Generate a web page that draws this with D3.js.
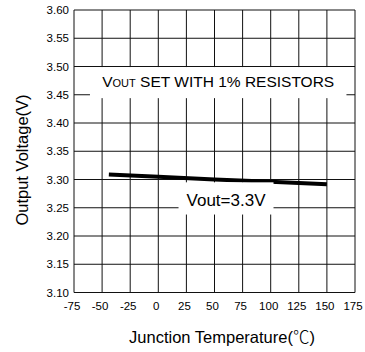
<!DOCTYPE html>
<html>
<head>
<meta charset="utf-8">
<script src="https://cdn.jsdelivr.net/npm/d3@7/dist/d3.min.js"></script>
<style>
  body { margin: 0; background: #fff; }
  text { font-family: "Liberation Sans", Arial, sans-serif; fill: #000; }
</style>
</head>
<body>
<div id="chart"></div>
<script>
// values
const xTicks = [-75, -50, -25, 0, 25, 50, 75, 100, 125, 150, 175];
const yTicks = [3.1, 3.15, 3.2, 3.25, 3.3, 3.35, 3.4, 3.45, 3.5, 3.55, 3.6];
const tempC = [-44, 0, 50, 100, 150];
const vout = [3.309, 3.305, 3.3, 3.296, 3.2915];

const width = 365,
  height = 352,
  margin = { top: 10, right: 10, bottom: 59.5, left: 74 };

const svg = d3
  .select("#chart")
  .append("svg")
  .attr("width", width)
  .attr("height", height);

const x = d3
  .scaleLinear()
  .domain([-75, 175])
  .range([margin.left, width - margin.right]);

const y = d3
  .scaleLinear()
  .domain([3.1, 3.6])
  .range([height - margin.bottom, margin.top]);

// grid
const grid = svg.append("g").attr("stroke", "#111").attr("stroke-width", 1);

grid
  .selectAll(".v")
  .data(xTicks)
  .join("line")
  .attr("x1", (d) => x(d))
  .attr("x2", (d) => x(d))
  .attr("y1", y(3.6))
  .attr("y2", y(3.1));

grid
  .selectAll(".h")
  .data(yTicks)
  .join("line")
  .attr("x1", x(-75))
  .attr("x2", x(175))
  .attr("y1", (d) => y(d))
  .attr("y2", (d) => y(d));

// tick labels
svg
  .append("g")
  .attr("transform", `translate(${margin.left},0)`)
  .call(
    d3
      .axisLeft(y)
      .tickValues(yTicks)
      .tickSize(0)
      .tickPadding(5)
      .tickFormat(d3.format(".2f"))
  )
  .call((g) => g.select(".domain").remove())
  .call((g) =>
    g.selectAll("text").style("font-size", "11.5px").attr("font-family", null)
  );

svg
  .append("g")
  .attr("transform", `translate(0,${height - margin.bottom})`)
  .call(
    d3
      .axisBottom(x)
      .tickValues(xTicks)
      .tickSize(0)
      .tickPadding(9)
      .tickFormat((d) => String(d))
  )
  .call((g) => g.select(".domain").remove())
  .call((g) =>
    g
      .selectAll("text")
      .style("font-size", "11.5px")
      .attr("font-family", null)
      .attr("dx", -2.5)
  );

// the curve
svg
  .append("path")
  .datum(tempC.map((t, i) => [t, vout[i]]))
  .attr("fill", "none")
  .attr("stroke", "#000")
  .attr("stroke-width", 4)
  .attr(
    "d",
    d3
      .line()
      .x((d) => x(d[0]))
      .y((d) => y(d[1]))
  );

// annotation boxes
svg
  .append("rect")
  .attr("x", x(-60.8))
  .attr("y", y(3.499))
  .attr("width", x(167.4) - x(-60.8))
  .attr("height", y(3.444) - y(3.499))
  .attr("fill", "#fff");

const note1 = svg
  .append("text")
  .attr("x", (x(-60.8) + x(167.4)) / 2)
  .attr("y", y(3.4635))
  .attr("text-anchor", "middle")
  .style("font-size", "15.5px");
note1.append("tspan").text("V");
note1.append("tspan").style("font-size", "11px").text("OUT");
note1.append("tspan").text(" SET WITH 1% RESISTORS");

svg
  .append("rect")
  .attr("x", x(18))
  .attr("y", y(3.295))
  .attr("width", x(102.5) - x(18))
  .attr("height", y(3.238) - y(3.295))
  .attr("fill", "#fff");

svg
  .append("text")
  .attr("x", (x(18) + x(102.5)) / 2)
  .attr("y", y(3.2535))
  .attr("text-anchor", "middle")
  .style("font-size", "17px")
  .text("Vout=3.3V");

// axis titles
const xTitle = svg
  .append("text")
  .attr("x", 222)
  .attr("y", 343)
  .attr("text-anchor", "middle")
  .style("font-size", "16.5px");
xTitle.append("tspan").text("Junction Temperature(");
xTitle
  .append("tspan")
  .style("font-family", '"Noto Sans CJK SC"')
  .style("font-weight", 300)
  .text("℃");
xTitle.append("tspan").text(")");

svg
  .append("text")
  .attr("transform", "translate(28,160) rotate(-90)")
  .attr("text-anchor", "middle")
  .style("font-size", "16.5px")
  .text("Output Voltage(V)");
</script>
</body>
</html>
